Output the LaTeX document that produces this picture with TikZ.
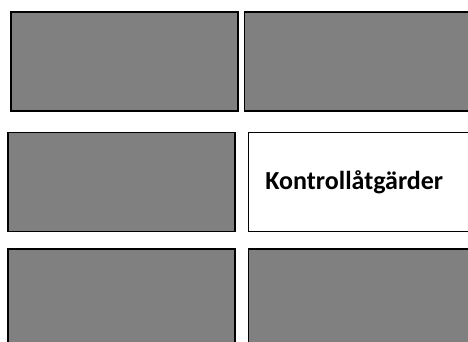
\documentclass[tikz,border=0pt]{standalone}
\usepackage{fontspec}
\setmainfont{Carlito}
\usetikzlibrary{positioning}
\tikzset{
  panel/.style      = {rectangle, draw=black, line width=1.6pt, fill=black!50,
                       minimum width=227pt, minimum height=99pt, inner sep=0pt},
  labelpanel/.style = {panel, fill=white, line width=1.2pt, align=left,
                       text width=193pt, inner xsep=17pt,
                       font=\fontsize{26}{30}\selectfont\bfseries},
}

\begin{document}
\begin{tikzpicture}[x=1pt, y=-1pt]

  \path[use as bounding box, clip] (0,0) rectangle (468,342);

  \node[panel, anchor=north west] (topleft) at (10.2,11.2) {};
  \node[panel, right=4.7pt of topleft] (topright) {};

  \node[panel, anchor=north west] (midleft) at (7.2,131.8) {};
  \node[labelpanel, right=12pt of midleft] (midright) {Kontrollåtgärder};

  \node[panel, below=16pt of midleft] (botleft) {};
  \node[panel, below=16pt of midright] (botright) {};

\end{tikzpicture}
\end{document}
